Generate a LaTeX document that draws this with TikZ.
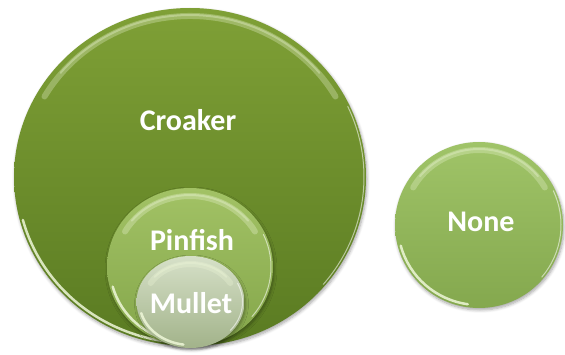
\documentclass[tikz,border=0pt]{standalone}
\usepackage{fontspec}
\setmainfont{Carlito}
\usetikzlibrary{shapes.geometric,shadows.blur}

\definecolor{croakTop}{HTML}{7FA036}
\definecolor{croakBot}{HTML}{5A7B22}
\definecolor{pinTop}{HTML}{A2C265}
\definecolor{pinBot}{HTML}{84A64A}
\definecolor{mulTop}{HTML}{D6E0C8}
\definecolor{mulBot}{HTML}{A2B38A}
\definecolor{noneTop}{HTML}{A0C468}
\definecolor{noneBot}{HTML}{84A84E}
\definecolor{rimLight}{HTML}{EEF7D8}

\tikzset{
  disc/.style={ellipse, inner sep=0pt, draw=none,
    blur shadow={shadow blur steps=6, shadow xshift=1pt,
      shadow yshift=-2pt, shadow opacity=35, shadow blur radius=3pt}},
  label/.style={text=white, font=\bfseries\fontsize{30}{34}\selectfont,
    inner sep=0pt}
}

% glossy rims of a disc: #1 node name, #2 x radius, #3 y radius (pt)
\newcommand{\discgloss}[3]{%
  \draw[rimLight, opacity=0.3, line width=6pt, line cap=round]
    (#1.center) ++(150:{#2pt-8pt} and {#3pt-8pt})
    arc[start angle=150, end angle=30, x radius={#2pt-8pt}, y radius={#3pt-8pt}];
  \draw[rimLight, opacity=0.35, line width=2pt, line cap=round]
    (#1.center) ++(140:{#2pt-7pt} and {#3pt-7pt})
    arc[start angle=140, end angle=40, x radius={#2pt-7pt}, y radius={#3pt-7pt}];
  \draw[rimLight, opacity=0.85, line width=2.5pt, line cap=round]
    (#1.center) ++(195:{#2pt-3pt} and {#3pt-3pt})
    arc[start angle=195, end angle=262, x radius={#2pt-3pt}, y radius={#3pt-3pt}];
  \draw[white, opacity=0.55, line width=1pt, line cap=round]
    (#1.center) ++(-40:{#2pt-2pt} and {#3pt-2pt})
    arc[start angle=-40, end angle=25, x radius={#2pt-2pt}, y radius={#3pt-2pt}];
}

\begin{document}
\begin{tikzpicture}[x=1pt, y=1pt]
  \useasboundingbox (0,0) rectangle (565,354);

  % outer set
  \node[disc, top color=croakTop, bottom color=croakBot,
        minimum width=352pt, minimum height=338pt] (croaker) at (190,177) {};
  \discgloss{croaker}{176}{169}

  % nested sets
  \node[disc, top color=pinTop, bottom color=pinBot,
        minimum width=166pt, minimum height=158pt] (pinfish) at (190,87) {};
  \discgloss{pinfish}{83}{79}

  \node[disc, top color=mulTop, bottom color=mulBot,
        minimum width=108pt, minimum height=92pt] (mullet) at (190.5,52) {};
  \discgloss{mullet}{54}{46}

  % separate set
  \node[disc, top color=noneTop, bottom color=noneBot,
        minimum width=168pt, minimum height=166pt] (none) at (479,129) {};
  \discgloss{none}{84}{83}

  % labels
  \node[label] (croakerlabel) at (188,234) {Croaker};
  \node[label] (pinfishlabel) at (192,114) {Pinfish};
  \node[label] (mulletlabel) at (191,51) {Mullet};
  \node[label] (nonelabel) at (481,132) {None};
\end{tikzpicture}
\end{document}
